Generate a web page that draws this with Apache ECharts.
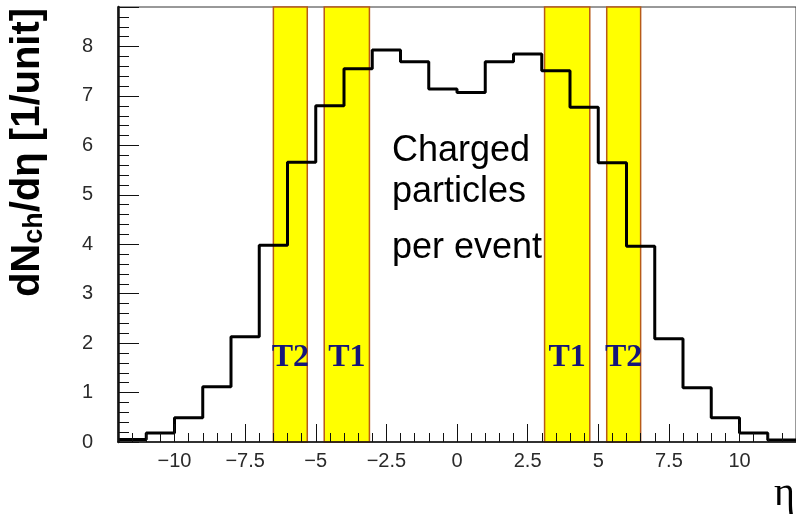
<!DOCTYPE html>
<html>
<head>
<meta charset="utf-8">
<script src="https://cdn.jsdelivr.net/npm/echarts@6/dist/echarts.min.js"></script>
<style>
  html, body { margin: 0; padding: 0; background: #fff; }
  #chart { width: 796px; height: 518px; }
</style>
</head>
<body>
<div id="chart"></div>
<script>
// Pseudorapidity bin edges (1 unit wide) and charged multiplicity per bin
const etaBinEdges = [-12, -11, -10, -9, -8, -7, -6, -5, -4, -3, -2, -1, 0,
                     1, 2, 3, 4, 5, 6, 7, 8, 9, 10, 11, 12];
const dNdEta = [0.05, 0.18, 0.49, 1.12, 2.13, 3.98, 5.66, 6.80, 7.55, 7.93, 7.69, 7.14,
                7.07, 7.69, 7.85, 7.51, 6.77, 5.65, 3.96, 2.09, 1.10, 0.49, 0.18, 0.04];

// Telescope acceptance ranges in eta
const bandNames = ['T2', 'T1', 'T1', 'T2'];
const bandLow   = [-6.5, -4.7, 3.1, 5.3];
const bandHigh  = [-5.3, -3.1, 4.7, 6.5];

// Labelled tick values on the eta axis
const xMajorTicks = [-10, -7.5, -5, -2.5, 0, 2.5, 5, 7.5, 10];

const etaMin = -12, etaMax = 12, yMax = 8.8;

const histData = dNdEta.map((v, i) => [etaBinEdges[i], v]);
histData.push([etaBinEdges[etaBinEdges.length - 1], dNdEta[dNdEta.length - 1]]);

const tickColor = '#111';
const sans = 'Liberation Sans';

function note(text, top) {
  return {
    text: text, left: 392, top: top, padding: 0,
    textStyle: { fontFamily: sans, fontSize: 36, fontWeight: 'normal', color: '#000' }
  };
}

const chart = echarts.init(document.getElementById('chart'));

chart.setOption({
  animation: false,
  title: [
    note('Charged', 133),
    note('particles', 174),
    note('per event', 230),
    {
      text: '\u03b7', left: 774, top: 474, padding: 0,
      textStyle: { fontFamily: 'Liberation Serif', fontSize: 40, fontWeight: 'normal', color: '#000' }
    }
  ],
  grid: {
    left: 116, top: 7, right: -4, bottom: 76,
    show: true, borderColor: '#333', borderWidth: 1
  },
  xAxis: [
    {
      // small ticks every 0.5
      type: 'value', min: etaMin, max: etaMax, interval: 0.5, position: 'bottom', z: 10,
      axisLine: { show: true, onZero: false, lineStyle: { color: tickColor, width: 1.5 } },
      axisTick: { show: true, inside: true, length: 9, lineStyle: { color: tickColor, width: 1 } },
      axisLabel: { show: false },
      splitLine: { show: false }
    },
    {
      // labelled ticks every 2.5
      type: 'value', min: etaMin, max: etaMax, position: 'bottom', z: 10,
      axisLine: { show: false, onZero: false },
      axisTick: { show: true, inside: true, length: 18, customValues: xMajorTicks,
                  lineStyle: { color: tickColor, width: 1 } },
      axisLabel: {
        show: true, customValues: xMajorTicks, margin: 9,
        fontFamily: sans, fontSize: 20, color: '#2a2a2a',
        formatter: v => String(v).replace('-', '\u2212')
      },
      splitLine: { show: false }
    }
  ],
  yAxis: [
    {
      type: 'value', min: 0, max: yMax, interval: 1, position: 'left', z: 10,
      name: '{a|dN}{s|ch}{a|/d\u03b7 [1/unit]}',
      nameLocation: 'middle',
      nameRotate: 90,
      nameGap: 70,
      nameTextStyle: {
        padding: [0, 0, 0, 144],
        rich: {
          a: { fontFamily: sans, fontWeight: 'bold', fontSize: 40, color: '#000', verticalAlign: 'bottom' },
          s: { fontFamily: sans, fontWeight: 'bold', fontSize: 27, color: '#000', verticalAlign: 'bottom' }
        }
      },
      axisLine: { show: true, onZero: false, lineStyle: { color: tickColor, width: 2.5 } },
      axisTick: { show: true, inside: true, length: 21, lineStyle: { color: tickColor, width: 1 } },
      minorTick: { show: true, splitNumber: 5, length: 11, lineStyle: { color: tickColor, width: 1 } },
      axisLabel: { show: true, showMaxLabel: false, margin: 25,
                   fontFamily: sans, fontSize: 20, color: '#2a2a2a' },
      splitLine: { show: false }
    }
  ],
  series: [
    {
      type: 'line',
      step: 'end',
      symbol: 'none',
      data: histData,
      lineStyle: { color: '#000', width: 3 },
      z: 5,
      markArea: {
        silent: true,
        itemStyle: { color: '#ffff00', borderColor: '#b85a18', borderWidth: 1.5 },
        label: {
          show: true,
          position: ['50%', '80.5%'],
          align: 'center',
          verticalAlign: 'middle',
          formatter: '{b}',
          color: '#15157a',
          fontFamily: 'Liberation Serif',
          fontWeight: 'bold',
          fontSize: 32
        },
        data: bandNames.map((n, i) => [
          { name: n, xAxis: bandLow[i] },
          { xAxis: bandHigh[i] }
        ])
      }
    }
  ]
});
</script>
</body>
</html>
